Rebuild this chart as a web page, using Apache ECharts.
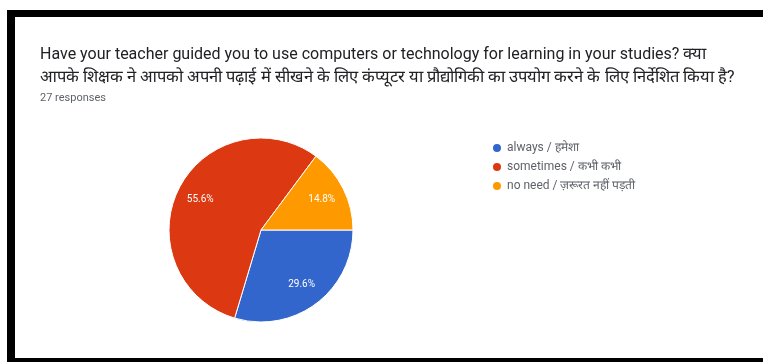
<!DOCTYPE html>
<html>
<head>
<meta charset="utf-8">
<script src="https://cdn.jsdelivr.net/npm/echarts@6/dist/echarts.min.js"></script>
<style>
html,body{margin:0;padding:0;background:#fff;width:763px;height:362px;overflow:hidden;}
#frame{position:absolute;left:7px;top:10px;width:800px;height:341px;border-left:8px solid #000;border-top:7px solid #000;border-bottom:6px solid #000;background:#fff;}
#chart{position:absolute;left:0;top:0;width:763px;height:362px;}
</style>
</head>
<body>
<div id="frame"></div>
<div id="chart"></div>
<script>
const titleEn = "Have your teacher guided you to use computers or technology for learning in your studies? ";
const titleHi1 = "क्या";
const titleHi2 = "आपके शिक्षक ने आपको अपनी पढ़ाई में सीखने के लिए कंप्यूटर या प्रौद्योगिकी का उपयोग करने के लिए निर्देशित किया है?";
const responsesText = "27 responses";
const categories = ["always / हमेशा", "sometimes / कभी कभी", "no need / ज़रूरत नहीं पड़ती"];
const counts = [8, 15, 4];
const colors = ["#3366cc", "#dc3912", "#ff9900"];

const data = categories.map((c, i) => ({ name: c, value: counts[i], itemStyle: { color: colors[i] } }));
const total = counts.reduce((a, b) => a + b, 0);

const chart = echarts.init(document.getElementById('chart'), null, { renderer: 'canvas' });
chart.setOption({
  backgroundColor: 'transparent',
  animation: false,
  title: {
    text: '{en|' + titleEn + '}{hi|' + titleHi1 + '}\n{hi|' + titleHi2 + '}',
    subtext: responsesText,
    left: 35,
    top: 38,
    itemGap: 4,
    textStyle: {
      fontFamily: 'Roboto, sans-serif', fontSize: 15, fontWeight: 'normal', color: '#202124', lineHeight: 23,
      rich: {
        en: { fontFamily: 'Roboto, sans-serif', fontSize: 16, color: '#202124', lineHeight: 23 },
        hi: { fontFamily: 'Roboto, sans-serif', fontSize: 16.5, color: '#202124', lineHeight: 23 }
      }
    },
    subtextStyle: { fontFamily: 'Roboto, sans-serif', fontSize: 11, color: '#5f6368' }
  },
  legend: {
    orient: 'vertical',
    left: 486,
    top: 137,
    icon: 'circle',
    itemWidth: 10,
    itemHeight: 10,
    itemGap: 7,
    textStyle: { fontFamily: 'Roboto, sans-serif', fontSize: 12, color: '#5f6368' },
    data: categories
  },
  series: [
    {
      type: 'pie',
      center: [261, 230],
      radius: [0, 92],
      startAngle: 0,
      clockwise: true,
      data: data,
      label: { show: false },
      labelLine: { show: false },
      itemStyle: { borderColor: '#fff', borderWidth: 1 }
    },
    {
      type: 'pie',
      center: [261, 230],
      radius: [38, 92],
      startAngle: 0,
      clockwise: true,
      silent: true,
      data: data.map(d => ({ name: d.name, value: d.value, itemStyle: { color: 'rgba(0,0,0,0)' } })),
      label: {
        show: true,
        position: 'inside',
        formatter: p => (p.value / total * 100).toFixed(1) + '%',
        color: '#fff',
        fontFamily: 'Roboto, sans-serif',
        fontSize: 10
      },
      labelLine: { show: false },
      itemStyle: { borderWidth: 0 },
      emphasis: { disabled: true }
    }
  ]
});
</script>
</body>
</html>
